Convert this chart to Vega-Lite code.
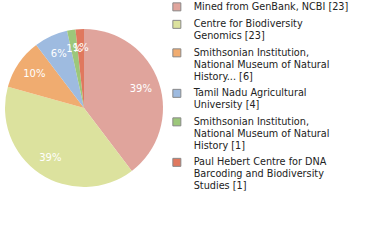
{
  "$schema": "https://vega.github.io/schema/vega-lite/v6.json",
  "width": 168,
  "height": 216,
  "padding": 0,
  "background": "white",
  "config": {"view": {"stroke": null}, "font": "DejaVu Sans"},
  "data": {
    "values": [
      {"idx": 1, "source": "Mined from GenBank, NCBI [23]", "count": 23},
      {"idx": 2, "source": "Centre for Biodiversity\nGenomics [23]", "count": 23},
      {"idx": 3, "source": "Smithsonian Institution,\nNational Museum of Natural\nHistory... [6]", "count": 6},
      {"idx": 4, "source": "Tamil Nadu Agricultural\nUniversity [4]", "count": 4},
      {"idx": 5, "source": "Smithsonian Institution,\nNational Museum of Natural\nHistory [1]", "count": 1},
      {"idx": 6, "source": "Paul Hebert Centre for DNA\nBarcoding and Biodiversity\nStudies [1]", "count": 1}
    ]
  },
  "transform": [
    {"joinaggregate": [{"op": "sum", "field": "count", "as": "total"}]},
    {"calculate": "floor(datum.count / datum.total * 100) + '%'", "as": "pct"}
  ],
  "encoding": {
    "theta": {"field": "count", "type": "quantitative", "stack": true},
    "order": {"field": "idx", "type": "quantitative", "sort": "ascending"}
  },
  "layer": [
    {
      "mark": {"type": "arc", "outerRadius": 79},
      "encoding": {
        "color": {
          "field": "source",
          "type": "nominal",
          "scale": {
            "domain": [
              "Mined from GenBank, NCBI [23]",
              "Centre for Biodiversity\nGenomics [23]",
              "Smithsonian Institution,\nNational Museum of Natural\nHistory... [6]",
              "Tamil Nadu Agricultural\nUniversity [4]",
              "Smithsonian Institution,\nNational Museum of Natural\nHistory [1]",
              "Paul Hebert Centre for DNA\nBarcoding and Biodiversity\nStudies [1]"
            ],
            "range": ["#E0A49C", "#DCE29E", "#F0AC70", "#9EBBE0", "#9CC77A", "#E0785E"]
          },
          "legend": {
            "title": null,
            "orient": "none",
            "legendX": 172,
            "legendY": 2,
            "symbolType": "square",
            "symbolSize": 64,
            "symbolStrokeColor": "#888888",
            "symbolStrokeWidth": 1,
            "symbolOpacity": 1,
            "labelExpr": "split(datum.label, '\\n')",
            "labelFont": "DejaVu Sans",
            "labelFontSize": 9.7,
            "labelColor": "#222222",
            "labelLimit": 300,
            "labelOffset": 12,
            "rowPadding": 4.5,
            "labelBaseline": "middle",
            "encode": {"labels": {"update": {"lineHeight": {"value": 12}}}}
          }
        }
      }
    },
    {
      "mark": {"type": "text", "radius": 60, "color": "white", "fontSize": 10, "font": "DejaVu Sans"},
      "encoding": {"text": {"field": "pct", "type": "nominal"}}
    }
  ]
}
